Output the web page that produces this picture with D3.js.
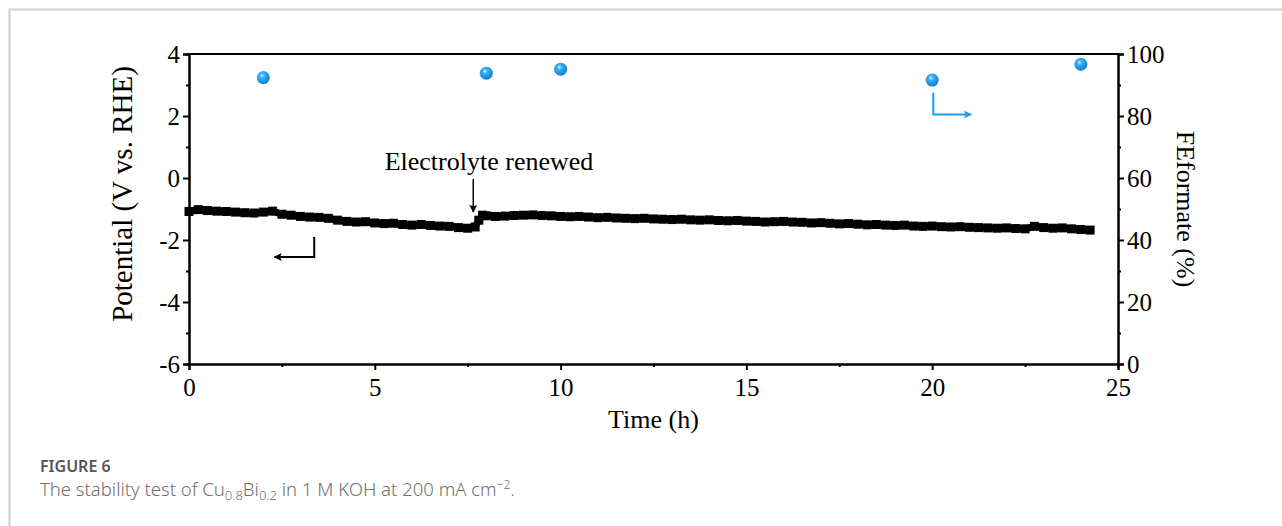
<!DOCTYPE html>
<html>
<head>
<meta charset="utf-8">
<script src="https://cdn.jsdelivr.net/npm/d3@7"></script>
<style>
  body { margin: 0; background: #fff; }
</style>
</head>
<body>
<div id="chart"></div>
<script>
// potential vs time (V vs. RHE)
const timeH = [0, 0.25, 0.5, 0.75, 1, 1.25, 1.5, 1.75, 2, 2.25, 2.5, 2.75, 3, 3.25, 3.5, 3.75,
  4, 4.25, 4.5, 4.75, 5, 5.25, 5.5, 5.75, 6, 6.25, 6.5, 6.75, 7, 7.25, 7.5, 7.7, 7.8, 7.9,
  8, 8.25, 8.5, 8.75, 9, 9.25, 9.5, 9.75, 10, 10.25, 10.5, 10.75, 11, 11.25, 11.5, 11.75,
  12, 12.25, 12.5, 12.75, 13, 13.25, 13.5, 13.75, 14, 14.25, 14.5, 14.75, 15, 15.25, 15.5, 15.75,
  16, 16.25, 16.5, 16.75, 17, 17.25, 17.5, 17.75, 18, 18.25, 18.5, 18.75, 19, 19.25, 19.5, 19.75,
  20, 20.25, 20.5, 20.75, 21, 21.25, 21.5, 21.75, 22, 22.25, 22.5, 22.75, 23, 23.25, 23.5, 23.75,
  24, 24.25];
const potential = [-1.08, -1.02, -1.05, -1.07, -1.08, -1.10, -1.12, -1.13, -1.10, -1.07, -1.17, -1.20,
  -1.24, -1.26, -1.27, -1.30, -1.36, -1.40, -1.42, -1.41, -1.45, -1.47, -1.46, -1.50, -1.52, -1.50,
  -1.53, -1.55, -1.56, -1.60, -1.62, -1.58, -1.36, -1.20,
  -1.22, -1.24, -1.23, -1.21, -1.20, -1.19, -1.21, -1.22, -1.24, -1.25, -1.24, -1.26, -1.28, -1.27,
  -1.29, -1.30, -1.31, -1.30, -1.32, -1.33, -1.34, -1.33, -1.35, -1.36, -1.35, -1.37, -1.38, -1.37,
  -1.39, -1.40, -1.42, -1.41, -1.40, -1.42, -1.43, -1.45, -1.44, -1.46, -1.48, -1.47, -1.49, -1.51,
  -1.50, -1.52, -1.53, -1.52, -1.55, -1.56, -1.55, -1.57, -1.58, -1.57, -1.59, -1.60, -1.61, -1.62,
  -1.61, -1.63, -1.64, -1.56, -1.60, -1.62, -1.61, -1.64, -1.66, -1.68];

// faradaic efficiency of formate
const feTime = [2, 8, 10, 20, 24];
const feValue = [92.4, 93.8, 95.1, 91.6, 96.7];

const xTicks = [0, 5, 10, 15, 20, 25];
const yLeftTicks = [-6, -4, -2, 0, 2, 4];
const yRightTicks = [0, 20, 40, 60, 80, 100];

const W = 1282, H = 526;
const margin = {left: 189, right: 1118, top: 54, bottom: 364};
const serif = "Liberation Serif, Times New Roman, serif";

const svg = d3.select("#chart").append("svg")
  .attr("width", W)
  .attr("height", H);

// page frame
svg.append("path")
  .attr("d", `M9.5,${H} V9.5 H${W}`)
  .attr("fill", "none")
  .attr("stroke", "#cfcfcf")
  .attr("stroke-width", 2);

const x = d3.scaleLinear().domain([0, 25]).range([margin.left, margin.right]);
const yL = d3.scaleLinear().domain([-6, 4]).range([margin.bottom, margin.top]);
const yR = d3.scaleLinear().domain([0, 100]).range([margin.bottom, margin.top]);

const defs = svg.append("defs");
const grad = defs.append("radialGradient")
  .attr("id", "ball")
  .attr("cx", "40%").attr("cy", "35%").attr("r", "65%");
grad.append("stop").attr("offset", "0%").attr("stop-color", "#e8f7ff");
grad.append("stop").attr("offset", "25%").attr("stop-color", "#3fb4f5");
grad.append("stop").attr("offset", "100%").attr("stop-color", "#0a7fd6");

function arrowHead(id, color) {
  defs.append("marker")
    .attr("id", id)
    .attr("viewBox", "0 0 10 10")
    .attr("refX", 9).attr("refY", 5)
    .attr("markerWidth", 10).attr("markerHeight", 8)
    .attr("markerUnits", "userSpaceOnUse")
    .attr("orient", "auto")
    .append("path").attr("d", "M0,0 L10,5 L0,10 L2,5 z").attr("fill", color);
}
arrowHead("headBlack", "#000");
arrowHead("headBlue", "#1a9cf0");

// axes
svg.append("g")
  .attr("transform", `translate(0,${margin.bottom})`)
  .call(d3.axisBottom(x).tickValues(xTicks).tickSize(6).tickPadding(8).tickFormat(d3.format("d")));
svg.append("g")
  .attr("transform", `translate(0,${margin.bottom})`)
  .call(d3.axisBottom(x).tickValues([2.5, 7.5, 12.5, 17.5, 22.5]).tickSize(3).tickFormat(""));

svg.append("g")
  .attr("transform", `translate(${margin.left},0)`)
  .call(d3.axisLeft(yL).tickValues(yLeftTicks).tickSize(6).tickPadding(3).tickFormat(d => String(d)));
svg.append("g")
  .attr("transform", `translate(${margin.left},0)`)
  .call(d3.axisLeft(yL).tickValues([-5, -3, -1, 1, 3]).tickSize(3).tickFormat(""));

svg.append("g")
  .attr("transform", `translate(${margin.right},0)`)
  .call(d3.axisRight(yR).tickValues(yRightTicks).tickSize(6).tickPadding(3).tickFormat(d3.format("d")));
svg.append("g")
  .attr("transform", `translate(${margin.right},0)`)
  .call(d3.axisRight(yR).tickValues([10, 30, 50, 70, 90]).tickSize(3).tickFormat(""));

svg.selectAll(".domain").attr("stroke", "#000").attr("stroke-width", 2);
svg.selectAll(".tick line").attr("stroke", "#000").attr("stroke-width", 2);
svg.selectAll(".tick text")
  .attr("font-family", serif)
  .attr("font-size", 25)
  .attr("fill", "#000");

// top frame line
svg.append("line")
  .attr("x1", margin.left).attr("x2", margin.right)
  .attr("y1", margin.top).attr("y2", margin.top)
  .attr("stroke", "#000").attr("stroke-width", 2);

// potential trace
const pts = timeH.map((t, i) => [t, potential[i]]);
svg.append("path")
  .datum(pts)
  .attr("d", d3.line().x(d => x(d[0])).y(d => yL(d[1])))
  .attr("fill", "none")
  .attr("stroke", "#000")
  .attr("stroke-width", 7);
svg.append("g").selectAll("rect")
  .data(pts)
  .join("rect")
  .attr("x", d => x(d[0]) - 4.5)
  .attr("y", d => yL(d[1]) - 4.5)
  .attr("width", 9).attr("height", 9)
  .attr("fill", "#000");

// FE points
svg.append("g").selectAll("circle")
  .data(feTime.map((t, i) => [t, feValue[i]]))
  .join("circle")
  .attr("cx", d => x(d[0]))
  .attr("cy", d => yR(d[1]))
  .attr("r", 6.5)
  .attr("fill", "url(#ball)");

// axis indicator arrows
svg.append("path")
  .attr("d", `M${x(3.37)},${yL(-1.9)} V${yL(-2.55)} H${x(2.30)}`)
  .attr("fill", "none").attr("stroke", "#000").attr("stroke-width", 2)
  .attr("marker-end", "url(#headBlack)");
svg.append("path")
  .attr("d", `M${x(20.03)},${yR(87.5)} V${yR(80.5)} H${x(21.05)}`)
  .attr("fill", "none").attr("stroke", "#1a9cf0").attr("stroke-width", 2)
  .attr("marker-end", "url(#headBlue)");

// annotation
svg.append("text")
  .attr("x", 489).attr("y", 170)
  .attr("text-anchor", "middle")
  .attr("font-family", serif)
  .attr("font-size", 26)
  .text("Electrolyte renewed");
svg.append("line")
  .attr("x1", x(7.65)).attr("x2", x(7.65))
  .attr("y1", 179).attr("y2", 212)
  .attr("stroke", "#000").attr("stroke-width", 1.5)
  .attr("marker-end", "url(#headBlack)");

// axis titles
svg.append("text")
  .attr("transform", `translate(132,${(margin.top + margin.bottom) / 2 - 15}) rotate(-90)`)
  .attr("text-anchor", "middle")
  .attr("font-family", serif)
  .attr("font-size", 29)
  .text("Potential (V vs. RHE)");
svg.append("text")
  .attr("transform", `translate(1177,${(margin.top + margin.bottom) / 2}) rotate(90)`)
  .attr("text-anchor", "middle")
  .attr("font-family", serif)
  .attr("font-size", 26)
  .text("FEformate (%)");
svg.append("text")
  .attr("x", (margin.left + margin.right) / 2).attr("y", 428)
  .attr("text-anchor", "middle")
  .attr("font-family", serif)
  .attr("font-size", 26)
  .text("Time (h)");

// caption
svg.append("text")
  .attr("x", 40).attr("y", 472)
  .attr("font-family", "Noto Sans, sans-serif")
  .attr("font-size", 16).attr("font-weight", 600)
  .attr("fill", "#555")
  .text("FIGURE 6");
const cap = svg.append("text")
  .attr("x", 40).attr("y", 496)
  .attr("font-family", "Noto Sans, sans-serif")
  .attr("font-size", 18.5)
  .attr("font-weight", 300)
  .attr("fill", "#707070");
cap.append("tspan").text("The stability test of Cu");
cap.append("tspan").attr("font-size", 13).attr("dy", 4).text("0.8");
cap.append("tspan").attr("dy", -4).text("Bi");
cap.append("tspan").attr("font-size", 13).attr("dy", 4).text("0.2");
cap.append("tspan").attr("dy", -4).text(" in 1 M KOH at 200 mA cm");
cap.append("tspan").attr("font-size", 12).attr("dy", -7).text("−2");
cap.append("tspan").attr("dy", 7).text(".");
</script>
</body>
</html>
